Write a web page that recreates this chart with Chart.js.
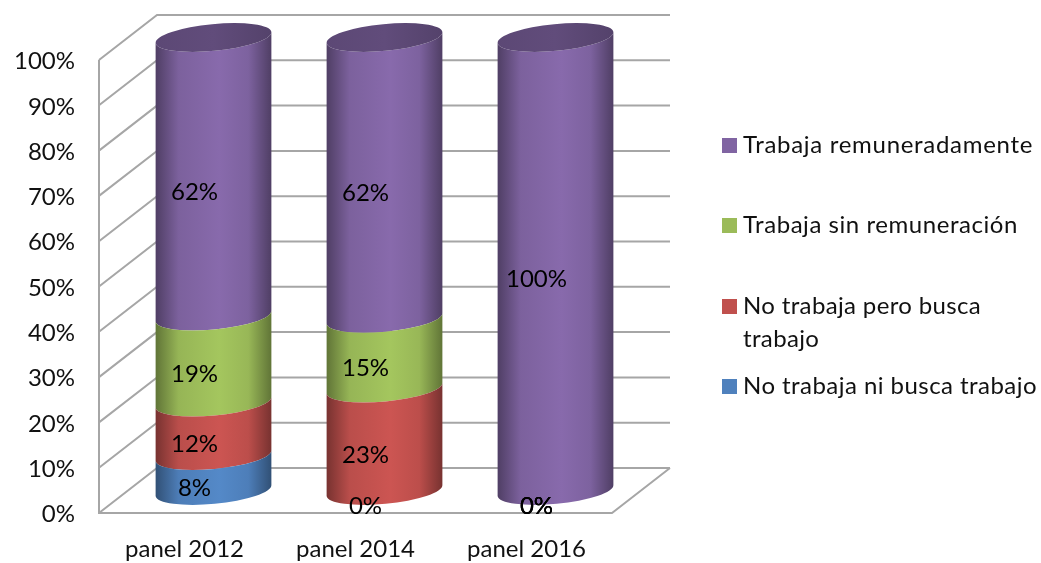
<!DOCTYPE html>
<html>
<head>
<meta charset="utf-8">
<script src="https://cdn.jsdelivr.net/npm/chart.js@4"></script>
<style>
  html, body { margin: 0; padding: 0; background: #fff; }
  #wrap { width: 1041px; height: 563px; }
</style>
</head>
<body>
<div id="wrap"><canvas id="panelChart" width="1041" height="563"></canvas></div>
<script>
const categories = ['panel 2012', 'panel 2014', 'panel 2016'];
const tickStep = 10;

const noBusca = [7.7, 0, 0];
const buscaTrabajo = [11.8, 22.6, 0];
const sinRemuneracion = [19, 15.4, 0];
const remunerado = [61.5, 62, 100];

const seriesNames = ['No trabaja ni busca trabajo', 'No trabaja pero busca trabajo', 'Trabaja sin remuneración', 'Trabaja remuneradamente'];
const seriesColors = ['#4f81bd', '#c0504d', '#9bbb59', '#8064a2'];

// legend, top to bottom: text lines, baselines and letter spacing
const legendRows = [
  { color: '#8064a2', lines: ['Trabaja remuneradamente'], y: [153], spacing: '0.7px' },
  { color: '#9bbb59', lines: ['Trabaja sin remuneración'], y: [233], spacing: '0.55px' },
  { color: '#c0504d', lines: ['No trabaja pero busca', 'trabajo'], y: [314, 347], spacing: '0.35px' },
  { color: '#4f81bd', lines: ['No trabaja ni busca trabajo'], y: [394], spacing: '0.45px' }
];

const FONT = 'Lato, Carlito, Calibri, sans-serif';
const wallX = 58, wallY = 45;          // depth of the 3d box
const midX = wallX / 2, midY = wallY / 2;
const tilt = -5.4 * Math.PI / 180;
const capB = 13.4;
const gridColor = '#a6a6a6';

function shade(hex, f) {
  const n = parseInt(hex.slice(1), 16);
  const c = [n >> 16, (n >> 8) & 255, n & 255].map(v => Math.min(255, Math.round(v * f)));
  return 'rgb(' + c.join(',') + ')';
}

function bodyGradient(ctx, left, right, color) {
  const g = ctx.createLinearGradient(left, 0, right, 0);
  g.addColorStop(0, shade(color, 0.62));
  g.addColorStop(0.2, shade(color, 0.97));
  g.addColorStop(0.55, shade(color, 1.06));
  g.addColorStop(0.8, shade(color, 0.98));
  g.addColorStop(1, shade(color, 0.62));
  return g;
}

const boxPlugin = {
  id: 'box3d',
  beforeDraw(chart) {
    // tick labels sit a bit lower than the canvas middle baseline puts them
    chart.scales.y.getLabelItems(chart.chartArea).forEach(item => {
      if (!item.moved) {
        item.options.translation[1] += 1.5;
        item.moved = true;
      }
    });
  },
  beforeDatasetsDraw(chart) {
    const { ctx, chartArea: a, scales: { y } } = chart;
    ctx.save();
    ctx.strokeStyle = gridColor;
    ctx.lineWidth = 2;
    ctx.beginPath();
    y.ticks.forEach(t => {
      const py = y.getPixelForValue(t.value);
      ctx.moveTo(a.left, py);
      ctx.lineTo(a.left + wallX, py - wallY);
      ctx.lineTo(a.right + wallX, py - wallY);
    });
    ctx.moveTo(a.left, a.top);
    ctx.lineTo(a.left, a.bottom);
    ctx.lineTo(a.right, a.bottom);
    ctx.lineTo(a.right + wallX, a.bottom - wallY);
    ctx.stroke();
    ctx.restore();
  },
  // the flat bars are replaced with cylinders at the same scale values
  beforeDatasetDraw(chart, args) {
    const { ctx } = chart;
    const color = chart.data.datasets[args.index].backgroundColor;
    const last = args.index === chart.data.datasets.length - 1;
    args.meta.data.forEach(bar => {
      const h = Math.abs(bar.base - bar.y);
      if (h < 0.5) return;
      const cx = bar.x + midX, r = bar.width / 2;
      const yBase = bar.base - midY, yTop = bar.y - midY;
      const left = cx - r, right = cx + r;
      ctx.save();
      ctx.fillStyle = bodyGradient(ctx, left, right, color);
      ctx.beginPath();
      ctx.ellipse(cx, yBase, r, capB, tilt, 0, Math.PI, false);
      ctx.ellipse(cx, yTop, r, capB, tilt, Math.PI, 0, true);
      ctx.closePath();
      ctx.fill();
      if (last) {
        const g = ctx.createLinearGradient(left, 0, right, 0);
        g.addColorStop(0, shade(color, 0.72));
        g.addColorStop(0.5, shade(color, 0.76));
        g.addColorStop(1, shade(color, 0.66));
        ctx.fillStyle = g;
        ctx.beginPath();
        ctx.ellipse(cx, yTop, r, capB, tilt, 0, Math.PI * 2);
        ctx.fill();
      }
      ctx.restore();
    });
    return false;
  },
  afterDatasetsDraw(chart) {
    const { ctx } = chart;
    ctx.save();
    ctx.fillStyle = '#000';
    ctx.font = '24px ' + FONT;
    ctx.textAlign = 'center';
    ctx.textBaseline = 'middle';
    chart.data.datasets.forEach((ds, i) => {
      chart.getDatasetMeta(i).data.forEach((bar, j) => {
        const val = ds.data[j];
        // zero labels stay, they pile up on the floor like in the original
        if (val > 0 || i === 0 || chart.data.datasets[0].data[j] === 0 && i < 3) {
          ctx.fillText(Math.round(val) + '%', bar.x + 10, (bar.y + bar.base) / 2 - 7);
        }
      });
    });
    ctx.restore();
  },
  afterDraw(chart) {
    const { ctx } = chart;
    ctx.save();
    ctx.font = '24px ' + FONT;
    ctx.textBaseline = 'alphabetic';
    legendRows.forEach(row => {
      ctx.fillStyle = row.color;
      ctx.fillRect(722, row.y[0] - 15, 15, 15);
      ctx.fillStyle = '#111';
      ctx.letterSpacing = row.spacing;
      row.lines.forEach((t, k) => ctx.fillText(t, 743, row.y[k]));
    });
    ctx.restore();
  }
};

new Chart(document.getElementById('panelChart'), {
  type: 'bar',
  data: {
    labels: categories,
    datasets: [noBusca, buscaTrabajo, sinRemuneracion, remunerado].map((vals, i) => ({
      label: seriesNames[i],
      data: vals,
      backgroundColor: seriesColors[i],
      categoryPercentage: 1,
      barPercentage: 0.68
    }))
  },
  plugins: [boxPlugin],
  options: {
    responsive: false,
    animation: false,
    layout: { padding: { top: 60, right: 429, bottom: 0, left: 0 } },
    plugins: { legend: { display: false }, tooltip: { enabled: false } },
    scales: {
      x: {
        stacked: true,
        grid: { display: false, drawTicks: false },
        border: { display: false },
        ticks: { color: '#111', font: { family: FONT, size: 24 }, padding: 22, maxRotation: 0 },
        afterFit(scale) { scale.height = 50; }
      },
      y: {
        stacked: true,
        min: 0,
        max: 100,
        grid: { display: false, drawTicks: false },
        border: { display: false },
        ticks: {
          stepSize: tickStep,
          color: '#111',
          padding: 24,
          font: { family: FONT, size: 24 },
          callback: v => v + '%'
        },
        afterFit(scale) { scale.width = 99; }
      }
    }
  }
});
</script>
</body>
</html>
